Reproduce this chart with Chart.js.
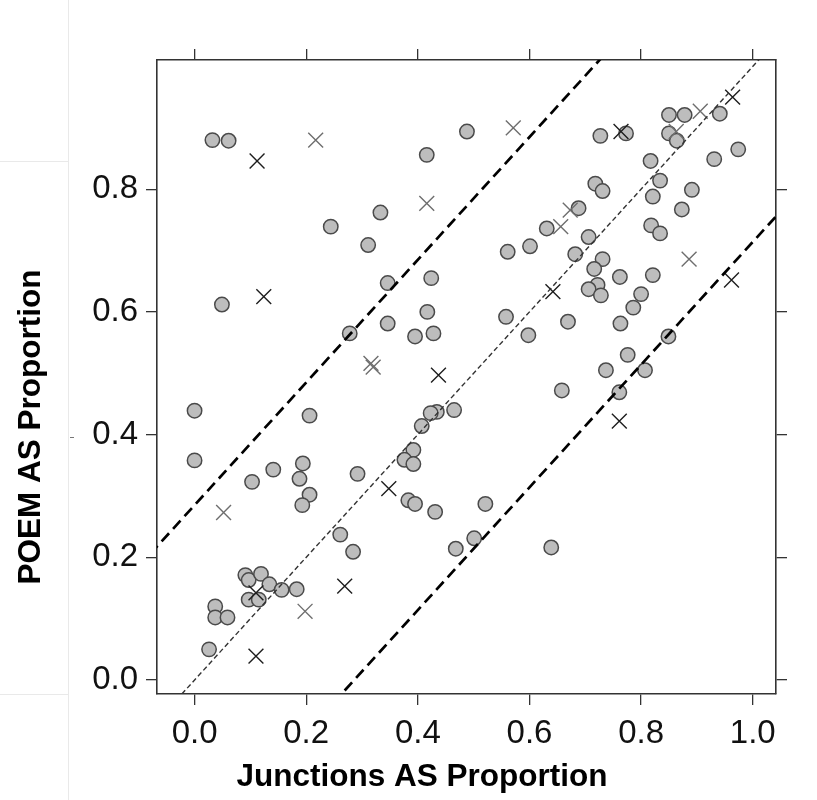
<!DOCTYPE html>
<html>
<head>
<meta charset="utf-8">
<script src="https://cdn.jsdelivr.net/npm/chart.js@4.4.0/dist/chart.umd.min.js"></script>
<style>
  html, body { margin: 0; padding: 0; background: #fff; }
  canvas { display: block; }
</style>
</head>
<body>
<canvas id="c" width="817" height="800"></canvas>
<script>
// Junctions AS proportion (x) vs POEM AS proportion (y), one pair per gene
const circleGenes = [
  [0.032,0.880],[0.061,0.879],[0.488,0.894],[0.416,0.856],[0.333,0.762],[0.244,0.739],
  [0.311,0.709],[0.346,0.647],[0.424,0.655],[0.049,0.612],[0.417,0.600],[0.346,0.581],
  [0.278,0.565],[0.395,0.560],[0.428,0.565],
  [0.727,0.887],[0.773,0.891],[0.850,0.921],[0.878,0.921],[0.941,0.923],[0.850,0.891],
  [0.864,0.879],[0.974,0.865],[0.931,0.849],[0.817,0.846],[0.834,0.814],[0.718,0.809],
  [0.731,0.797],[0.891,0.799],[0.821,0.788],[0.873,0.767],[0.688,0.769],[0.631,0.736],
  [0.818,0.741],[0.834,0.728],[0.706,0.722],[0.601,0.707],[0.561,0.698],[0.682,0.694],
  [0.731,0.686],[0.716,0.670],[0.762,0.657],[0.821,0.660],[0.722,0.644],[0.706,0.637],
  [0.728,0.627],[0.800,0.629],[0.786,0.607],[0.558,0.592],[0.669,0.584],[0.763,0.581],
  [0.598,0.562],[0.849,0.560],[0.776,0.530],[0.737,0.505],[0.807,0.505],[0.658,0.472],
  [0.761,0.469],
  [0.000,0.439],[0.206,0.431],[0.000,0.358],[0.194,0.353],[0.141,0.343],[0.103,0.323],
  [0.188,0.328],[0.206,0.302],[0.193,0.285],[0.292,0.336],[0.261,0.237],[0.284,0.209],
  [0.465,0.440],[0.434,0.437],[0.423,0.435],[0.407,0.414],[0.392,0.375],[0.376,0.359],
  [0.392,0.352],[0.383,0.293],[0.395,0.287],[0.431,0.274],[0.468,0.214],[0.501,0.231],
  [0.521,0.287],[0.639,0.216],
  [0.091,0.171],[0.097,0.163],[0.119,0.173],[0.134,0.156],[0.156,0.147],[0.183,0.148],
  [0.097,0.131],[0.115,0.131],[0.037,0.120],[0.037,0.102],[0.059,0.102],[0.026,0.050]
];

const darkCrossGenes = [
  [0.112,0.846],[0.124,0.625],[0.437,0.497],[0.348,0.312],[0.269,0.153],[0.110,0.039],
  [0.110,0.142],[0.764,0.894],[0.761,0.422],[0.962,0.652],[0.642,0.633],[0.964,0.950]
];

const grayCrossGenes = [
  [0.217,0.880],[0.416,0.777],[0.316,0.516],[0.320,0.510],[0.052,0.273],[0.198,0.112],
  [0.571,0.900],[0.906,0.927],[0.863,0.894],[0.673,0.766],[0.656,0.739],[0.886,0.686]
];

// Reference lines: identity and the two outer bands
const identityLine = [[-0.1,-0.1],[1.1,1.1]];
const upperBandLine = [[-0.1,0.185],[1.1,1.385]];
const lowerBandLine = [[-0.1,-0.386],[1.1,0.814]];

const xTickValues = [0, 0.2, 0.4, 0.6, 0.8, 1.0];
const xTickLabels = ['0.0', '0.2', '0.4', '0.6', '0.8', '1.0'];
const yTickValues = [0, 0.2, 0.4, 0.6, 0.8];
const yTickLabels = ['0.0', '0.2', '0.4', '0.6', '0.8'];

const xTitle = 'Junctions AS Proportion';
const yTitle = 'POEM AS Proportion';

const xRange = [-0.0673, 1.0417];
const yRange = [-0.0228, 1.0106];

const toXY = arr => arr.map(p => ({ x: p[0], y: p[1] }));

const FONT = '"Liberation Sans", Arial, Helvetica, sans-serif';
const frameColor = '#333';

function axisBase(range, tickValues, labels, showLabels, pos) {
  return {
    type: 'linear',
    position: pos,
    min: range[0],
    max: range[1],
    afterBuildTicks: scale => { scale.ticks = tickValues.map(v => ({ value: v })); },
    ticks: {
      display: showLabels,
      color: '#111',
      font: { family: FONT, size: 33 },
      padding: 9,
      autoSkip: false,
      maxRotation: 0,
      callback: (v, i) => labels[i]
    },
    grid: {
      display: true,
      drawOnChartArea: false,
      drawTicks: true,
      tickLength: 11,
      color: frameColor,
      lineWidth: 1.3
    },
    border: { display: true, color: frameColor, width: 1.6 }
  };
}

const xAxis = axisBase(xRange, xTickValues, xTickLabels, true, 'bottom');
xAxis.ticks.padding = 9;
xAxis.afterFit = s => { s.height = 106; };
const xTop = axisBase(xRange, xTickValues, xTickLabels, false, 'top');
xTop.afterFit = s => { s.height = 60; };
const yAxis = axisBase(yRange, yTickValues, yTickLabels, true, 'left');
yAxis.ticks.padding = 8;
yAxis.afterFit = s => { s.width = 157; };
const yRight = axisBase(yRange, yTickValues, yTickLabels, false, 'right');
yRight.afterFit = s => { s.width = 41; };

const decor = {
  id: 'decor',
  beforeDraw(chart) {
    const ctx = chart.ctx;
    ctx.save();
    ctx.fillStyle = '#fff';
    ctx.fillRect(0, 0, chart.width, chart.height);
    // faint panel edges at the far left
    ctx.strokeStyle = '#e9e9e9';
    ctx.lineWidth = 1;
    ctx.beginPath();
    ctx.moveTo(68.5, 0); ctx.lineTo(68.5, 800);
    ctx.moveTo(0, 161.5); ctx.lineTo(68, 161.5);
    ctx.moveTo(0, 694.5); ctx.lineTo(68, 694.5);
    ctx.stroke();
    ctx.strokeStyle = '#777';
    ctx.beginPath();
    ctx.moveTo(70, 437.5); ctx.lineTo(74, 437.5);
    ctx.stroke();
    ctx.restore();
  },
  afterDraw(chart) {
    const ctx = chart.ctx;
    ctx.save();
    ctx.fillStyle = '#000';
    ctx.font = 'bold 31.5px ' + FONT;
    ctx.textAlign = 'center';
    ctx.textBaseline = 'middle';
    ctx.fillText(xTitle, 422, 777);
    ctx.translate(31, 427);
    ctx.rotate(-Math.PI / 2);
    ctx.fillText(yTitle, 0, 0);
    ctx.restore();
  }
};

new Chart(document.getElementById('c'), {
  type: 'scatter',
  data: {
    datasets: [
      {
        label: 'identity',
        data: toXY(identityLine),
        showLine: true,
        borderColor: '#333',
        borderWidth: 1.4,
        borderDash: [5, 3],
        pointRadius: 0,
        fill: false,
        order: 0
      },
      {
        label: 'upper',
        data: toXY(upperBandLine),
        showLine: true,
        borderColor: '#000',
        borderWidth: 2.7,
        borderDash: [11, 6],
        pointRadius: 0,
        fill: false,
        order: 0
      },
      {
        label: 'lower',
        data: toXY(lowerBandLine),
        showLine: true,
        borderColor: '#000',
        borderWidth: 2.7,
        borderDash: [11, 6],
        pointRadius: 0,
        fill: false,
        order: 0
      },
      {
        label: 'dark crosses',
        data: toXY(darkCrossGenes),
        pointStyle: 'crossRot',
        pointRadius: 10.5,
        borderColor: '#1e1e1e',
        borderWidth: 1.4,
        order: 1
      },
      {
        label: 'gray crosses',
        data: toXY(grayCrossGenes),
        pointStyle: 'crossRot',
        pointRadius: 10.5,
        borderColor: '#6e6e6e',
        borderWidth: 1.4,
        order: 1
      },
      {
        label: 'circles',
        data: toXY(circleGenes),
        pointStyle: 'circle',
        pointRadius: 7.2,
        backgroundColor: '#bdbdbd',
        borderColor: '#4a4a4a',
        borderWidth: 1.5,
        order: 2
      }
    ]
  },
  options: {
    responsive: false,
    devicePixelRatio: 1,
    animation: false,
    events: [],
    layout: { padding: 0 },
    plugins: {
      legend: { display: false },
      tooltip: { enabled: false },
      title: { display: false }
    },
    scales: { x: xAxis, x2: xTop, y: yAxis, y2: yRight }
  },
  plugins: [decor]
});
</script>
</body>
</html>
